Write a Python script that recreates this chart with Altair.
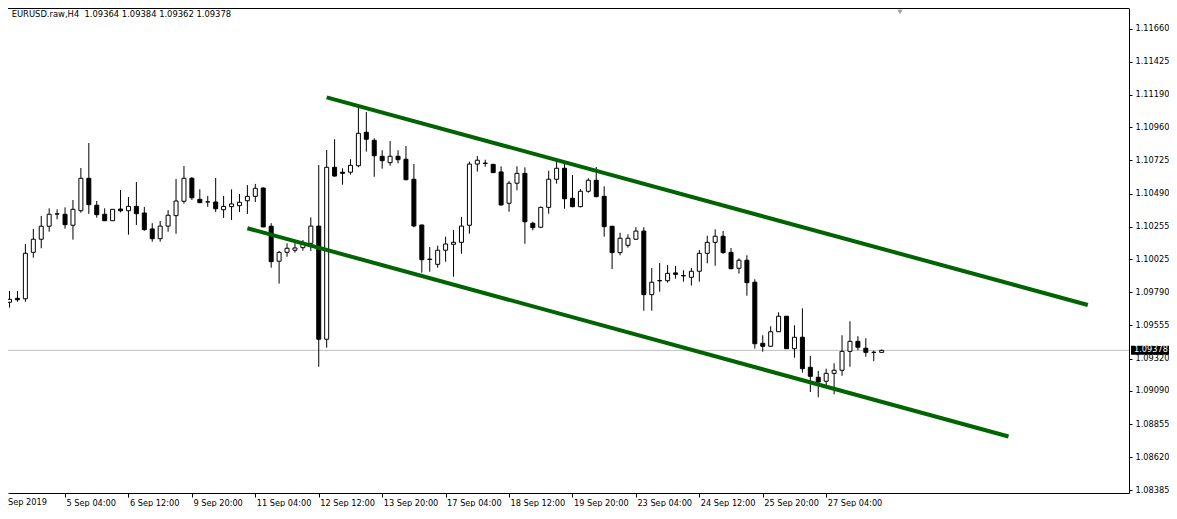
import json
import altair as alt
import pandas as pd

# ---- data (H4 candles, bar index 0..110) ----
opens = [1.09719, 1.09747, 1.09744, 1.10073, 1.10166, 1.10258, 1.10344, 1.10343, 1.10265, 1.10368,
         1.10598, 1.10407, 1.10343, 1.10297, 1.10380, 1.10368, 1.10399, 1.10352, 1.10239, 1.10170,
         1.10259, 1.10333, 1.10435, 1.10598, 1.10449, 1.10430, 1.10430, 1.10375, 1.10397, 1.10404,
         1.10439, 1.10470, 1.10529, 1.10258, 1.10010, 1.10073, 1.10088, 1.10106, 1.10137, 1.10259,
         1.09457, 1.10676, 1.10641, 1.10641, 1.10687, 1.10924, 1.10867, 1.10754, 1.10709, 1.10754,
         1.10733, 1.10591, 1.10267, 1.10022, 1.09988, 1.10088, 1.10130, 1.10144, 1.10265, 1.10699,
         1.10703, 1.10697, 1.10643, 1.10421, 1.10563, 1.10633, 1.10279, 1.10251, 1.10392, 1.10591,
         1.10669, 1.10456, 1.10397, 1.10506, 1.10584, 1.10470, 1.10258, 1.10071, 1.10123, 1.10166,
         1.10224, 1.09773, 1.09871, 1.09872, 1.09927, 1.09908, 1.09896, 1.09939, 1.10066, 1.10144,
         1.10187, 1.10073, 1.09960, 1.10017, 1.09861, 1.09428, 1.09407, 1.09510, 1.09620, 1.09390,
         1.09471, 1.09258, 1.09187, 1.09159, 1.09215, 1.09237, 1.09371, 1.09442, 1.09393, 1.09364,
         1.09364]
highs = [1.09799, 1.09799, 1.10132, 1.10239, 1.10331, 1.10385, 1.10378, 1.10392, 1.10444, 1.10671,
         1.10848, 1.10437, 1.10385, 1.10378, 1.10515, 1.10465, 1.10572, 1.10395, 1.10280, 1.10295,
         1.10373, 1.10593, 1.10685, 1.10607, 1.10520, 1.10473, 1.10600, 1.10473, 1.10520, 1.10487,
         1.10550, 1.10558, 1.10534, 1.10280, 1.10083, 1.10137, 1.10148, 1.10161, 1.10321, 1.10692,
         1.10799, 1.10875, 1.10669, 1.10733, 1.11099, 1.11068, 1.10882, 1.10797, 1.10862, 1.10797,
         1.10827, 1.10699, 1.10268, 1.10111, 1.10120, 1.10184, 1.10231, 1.10324, 1.10716, 1.10756,
         1.10730, 1.10699, 1.10683, 1.10579, 1.10683, 1.10676, 1.10290, 1.10397, 1.10652, 1.10728,
         1.10704, 1.10621, 1.10522, 1.10598, 1.10678, 1.10541, 1.10260, 1.10212, 1.10201, 1.10251,
         1.10251, 1.09962, 1.09997, 1.09983, 1.09976, 1.09946, 1.09962, 1.10090, 1.10191, 1.10236,
         1.10224, 1.10104, 1.10031, 1.10052, 1.09882, 1.09485, 1.09549, 1.09648, 1.09621, 1.09556,
         1.09676, 1.09338, 1.09232, 1.09248, 1.09286, 1.09485, 1.09584, 1.09478, 1.09464, 1.09376,
         1.09384]
lows = [1.09681, 1.09723, 1.09723, 1.10035, 1.10102, 1.10219, 1.10307, 1.10241, 1.10163, 1.10354,
        1.10345, 1.10319, 1.10297, 1.10297, 1.10357, 1.10198, 1.10267, 1.10226, 1.10148, 1.10148,
        1.10219, 1.10205, 1.10418, 1.10444, 1.10425, 1.10395, 1.10359, 1.10317, 1.10302, 1.10359,
        1.10345, 1.10430, 1.10253, 1.09964, 1.09851, 1.10042, 1.10071, 1.10085, 1.10083, 1.09262,
        1.09397, 1.10609, 1.10553, 1.10624, 1.10676, 1.10787, 1.10609, 1.10666, 1.10687, 1.10704,
        1.10584, 1.10251, 1.09929, 1.09936, 1.09964, 1.10007, 1.09900, 1.10063, 1.10205, 1.10645,
        1.10680, 1.10638, 1.10404, 1.10361, 1.10513, 1.10134, 1.10229, 1.10246, 1.10347, 1.10560,
        1.10382, 1.10392, 1.10392, 1.10496, 1.10463, 1.10184, 1.09955, 1.10052, 1.10106, 1.10161,
        1.09659, 1.09659, 1.09794, 1.09858, 1.09886, 1.09865, 1.09837, 1.09865, 1.09995, 1.09978,
        1.10063, 1.09953, 1.09922, 1.09766, 1.09390, 1.09369, 1.09404, 1.09508, 1.09389, 1.09326,
        1.09220, 1.09083, 1.09045, 1.09116, 1.09067, 1.09198, 1.09262, 1.09379, 1.09333, 1.09301,
        1.09362]
closes = [1.09740, 1.09737, 1.10066, 1.10166, 1.10258, 1.10343, 1.10346, 1.10269, 1.10378, 1.10598,
          1.10411, 1.10340, 1.10297, 1.10378, 1.10368, 1.10399, 1.10347, 1.10234, 1.10170, 1.10259,
          1.10336, 1.10437, 1.10598, 1.10460, 1.10425, 1.10431, 1.10382, 1.10399, 1.10416, 1.10428,
          1.10470, 1.10527, 1.10253, 1.10007, 1.10073, 1.10102, 1.10104, 1.10137, 1.10259, 1.09457,
          1.10676, 1.10614, 1.10633, 1.10690, 1.10917, 1.10875, 1.10758, 1.10723, 1.10754, 1.10730,
          1.10588, 1.10260, 1.10021, 1.10025, 1.10088, 1.10132, 1.10144, 1.10259, 1.10699, 1.10726,
          1.10706, 1.10638, 1.10409, 1.10563, 1.10633, 1.10290, 1.10248, 1.10392, 1.10591, 1.10669,
          1.10453, 1.10397, 1.10506, 1.10584, 1.10468, 1.10255, 1.10071, 1.10173, 1.10173, 1.10224,
          1.09773, 1.09861, 1.09873, 1.09924, 1.09917, 1.09906, 1.09939, 1.10066, 1.10144, 1.10187,
          1.10071, 1.09957, 1.10017, 1.09858, 1.09425, 1.09407, 1.09510, 1.09620, 1.09390, 1.09471,
          1.09248, 1.09194, 1.09154, 1.09215, 1.09237, 1.09371, 1.09442, 1.09400, 1.09364, 1.09364,
          1.09378]
bar_index = list(range(len(opens)))

tick_bars = [7, 15, 23, 31, 39, 47, 55, 63, 71, 79, 87, 95, 103]
tick_labels = ["5 Sep 04:00", "6 Sep 12:00", "9 Sep 20:00", "11 Sep 04:00", "12 Sep 12:00",
               "13 Sep 20:00", "17 Sep 04:00", "18 Sep 12:00", "19 Sep 20:00", "23 Sep 04:00",
               "24 Sep 12:00", "25 Sep 20:00", "27 Sep 04:00"]
first_label = "Sep 2019"

price_ticks = [1.11660, 1.11425, 1.11190, 1.10960, 1.10725, 1.10490, 1.10255, 1.10025,
               1.09790, 1.09555, 1.09320, 1.09090, 1.08855, 1.08620, 1.08385]

channel_group = ["upper", "upper", "lower", "lower"]
channel_bar = [40, 136, 30, 126]
channel_price = [1.11172, 1.09700, 1.10244, 1.08767]

symbol = "EURUSD.raw,H4"
last_ohlc = [1.09364, 1.09384, 1.09362, 1.09378]
last_close = 1.09378

# ---- layout ----
W, H = 1121, 485
FONT = "DejaVu Sans"
FS = 8.2
x_scale = alt.Scale(domain=[0.4375, 140.5625], nice=False, zero=False)
y_scale = alt.Scale(domain=[1.083667, 1.118054], nice=False, zero=False)

candles = pd.DataFrame({"i": bar_index, "o": opens, "h": highs, "l": lows, "c": closes})
channels = pd.DataFrame({"g": channel_group, "bar": channel_bar, "price": channel_price})
last_df = pd.DataFrame({"p": [last_close], "label": [f"{last_close:.5f}"]})

label_expr = json.dumps(tick_labels) + "[(datum.value - %d) / 8]" % tick_bars[0]

x_axis = alt.Axis(values=tick_bars, labelExpr=label_expr, orient="bottom", title=None, grid=False,
                  domainColor="black", tickColor="black", tickSize=4, labelAlign="left",
                  labelBaseline="alphabetic", labelPadding=8, labelOffset=1, labelFont=FONT,
                  labelFontSize=FS, labelColor="black", labelOverlap=False, labelFlush=False,
                  labelBound=False)
y_axis = alt.Axis(values=price_ticks, format=".5f", orient="right", title=None, grid=False,
                  domainColor="black", tickColor="black", tickSize=3, labelPadding=3,
                  labelAlign="left", labelBaseline="middle", labelFont=FONT, labelFontSize=FS,
                  labelColor="black", labelOverlap=False, labelFlush=False, labelBound=False,
                  labelSeparation=0)

base = alt.Chart(candles)

wicks = base.mark_rule(color="black", strokeWidth=1, clip=True).encode(
    x=alt.X("i:Q", scale=x_scale, axis=x_axis, title=None),
    y=alt.Y("l:Q", scale=y_scale, axis=y_axis, title=None),
    y2="h:Q",
)

bodies = base.mark_bar(size=4, stroke="black", strokeWidth=1, clip=True).encode(
    x=alt.X("i:Q", scale=x_scale, axis=x_axis, title=None),
    y=alt.Y("o:Q", scale=y_scale, axis=y_axis, title=None),
    y2="c:Q",
    fill=alt.condition("datum.c >= datum.o", alt.value("white"), alt.value("black")),
)

channel_lines = alt.Chart(channels).mark_line(color="#006400", strokeWidth=4, clip=True).encode(
    x=alt.X("bar:Q", scale=x_scale, axis=x_axis, title=None),
    y=alt.Y("price:Q", scale=y_scale, axis=y_axis, title=None),
    detail="g:N",
)

price_line = alt.Chart(last_df).mark_rule(color="#c0c0c0", strokeWidth=1).encode(
    y=alt.Y("p:Q", scale=y_scale, axis=y_axis, title=None),
)

price_tag = alt.Chart(last_df).mark_rect(color="black", yOffset=-4.5, y2Offset=4.5).encode(
    x=alt.value(W + 2), x2=alt.value(W + 40),
    y=alt.Y("p:Q", scale=y_scale, axis=y_axis, title=None), y2="p:Q",
)

price_text = alt.Chart(last_df).mark_text(color="white", align="left", baseline="middle",
                                          font=FONT, fontSize=FS).encode(
    x=alt.value(W + 5),
    y=alt.Y("p:Q", scale=y_scale, axis=y_axis, title=None),
    text="label:N",
)

title_text = symbol + "\u00a0\u00a0" + " ".join(f"{v:.5f}" for v in last_ohlc)
header = alt.Chart(last_df).mark_text(align="left", baseline="alphabetic", font=FONT,
                                      fontSize=8.4, color="black").encode(
    x=alt.value(3.7), y=alt.value(8.9), text=alt.value(title_text))

first_date = alt.Chart(last_df).mark_text(align="left", baseline="alphabetic", font=FONT,
                                          fontSize=FS, color="black").encode(
    x=alt.value(0), y=alt.value(H + 12), text=alt.value(first_label))

top_border = alt.Chart(last_df).mark_rule(color="black", strokeWidth=1).encode(
    x=alt.value(0), x2=alt.value(W), y=alt.value(0.5))

shift_marker = alt.Chart(last_df).mark_point(shape="triangle-down", filled=True, color="#a0a0a0",
                                             size=28, opacity=1).encode(
    x=alt.value(892), y=alt.value(4))

chart = alt.layer(
    price_line, wicks, bodies, channel_lines, price_tag, price_text, header, first_date,
    top_border, shift_marker,
).properties(
    width=W, height=H, background="white",
    autosize=alt.AutoSizeParams(type="none"),
    padding={"left": 0, "top": 0, "right": 40, "bottom": 14},
).configure_view(stroke=None).configure_axis(labelOverlap=False)

chart.save("out.html", embed_options={"renderer": "svg", "actions": False})
